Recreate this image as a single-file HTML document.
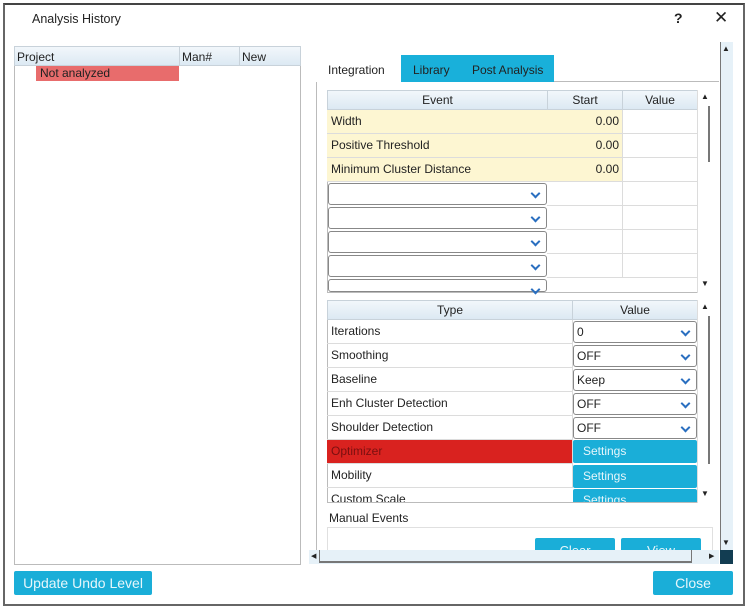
<!DOCTYPE html>
<html><head><style>
*{box-sizing:border-box;margin:0;padding:0}
body{width:750px;height:610px;background:#fff;position:relative;overflow:hidden;font-family:"Liberation Sans","DejaVu Sans",sans-serif;font-size:12px;color:#222}
.a{position:absolute}
.t{position:absolute;white-space:nowrap}
.hdr{background:linear-gradient(#f2f7fb,#dce9f3);border:1px solid #c8d2da;text-align:center;line-height:19px}
.cell{position:absolute;border-bottom:1px solid #dcdcdc;border-right:1px solid #dcdcdc;line-height:23px;padding-left:4px}
.y{background:#fdf6d2}
.dd{position:absolute;background:#fff;border:1px solid #888;border-radius:3px}
.dd::after{content:"";position:absolute;right:7px;top:6px;width:5px;height:5px;border-right:2px solid #2a6fc0;border-bottom:2px solid #2a6fc0;transform:rotate(45deg)}
.btn{position:absolute;background:#1aaed8;color:#e6f6fb;border-radius:2px;text-align:center;font-size:14px}
</style></head><body>
<div class="a" style="left:3px;top:3px;width:742px;height:603px;border:2px solid #666;border-top-color:#444"></div>
<div class="t" style="left:32px;top:12px;font-size:12.5px">Analysis History</div>
<div class="t" style="left:674px;top:10px;font-size:14px;font-weight:bold">?</div>
<div class="t" style="left:714px;top:8px;font-size:17px">✕</div>

<!-- left list -->
<div class="a" style="left:14px;top:46px;width:287px;height:519px;border:1px solid #bbb"></div>
<div class="a hdr" style="left:14px;top:46px;width:287px;height:20px"></div>
<div class="t" style="left:17px;top:50px">Project</div>
<div class="a" style="left:179px;top:47px;width:1px;height:19px;background:#c8d2da"></div>
<div class="t" style="left:182px;top:50px">Man#</div>
<div class="a" style="left:239px;top:47px;width:1px;height:19px;background:#c8d2da"></div>
<div class="t" style="left:242px;top:50px">New</div>
<div class="a" style="left:36px;top:66px;width:143px;height:15px;background:#e86c6c"></div>
<div class="t" style="left:40px;top:66px">Not analyzed</div>
<div class="btn" style="left:14px;top:571px;width:138px;height:24px;line-height:24px">Update Undo Level</div>

<!-- right panel -->
<div class="a" style="left:316px;top:82px;width:1px;height:470px;background:#bbb"></div>
<div class="a" style="left:720px;top:42px;width:13px;height:510px;background:#e6f1f8;border-left:1px solid #777"></div>
<div class="t" style="left:722px;top:44px;font-size:8px">▲</div>
<div class="t" style="left:722px;top:538px;font-size:8px">▼</div>
<div class="t" style="left:328px;top:63px">Integration</div>
<div class="a" style="left:401px;top:55px;width:153px;height:27px;background:#19b0da"></div>
<div class="t" style="left:413px;top:63px">Library</div>
<div class="t" style="left:472px;top:63px">Post Analysis</div>
<div class="a" style="left:554px;top:81px;width:165px;height:1px;background:#bbb"></div>

<!-- event table -->
<div class="a" style="left:327px;top:90px;width:386px;height:203px;border:1px solid #bbb"></div>
<div class="a hdr" style="left:327px;top:90px;width:221px;height:20px">Event</div>
<div class="a hdr" style="left:547px;top:90px;width:76px;height:20px">Start</div>
<div class="a hdr" style="left:622px;top:90px;width:76px;height:20px">Value</div>
<div class="a" style="left:697px;top:90px;width:16px;height:203px;background:#fff;border-left:1px solid #ddd"></div>
<div class="a" style="left:708px;top:106px;width:2px;height:56px;background:#777"></div>
<div class="t" style="left:701px;top:92px;font-size:8px">▲</div>
<div class="t" style="left:701px;top:279px;font-size:8px">▼</div>
<div class="cell y" style="left:327px;top:110px;width:221px;height:24px">Width</div>
<div class="cell y" style="left:547px;top:110px;width:76px;height:24px;text-align:right;padding-right:3px">0.00</div>
<div class="cell" style="left:622px;top:110px;width:76px;height:24px"></div>
<div class="cell y" style="left:327px;top:134px;width:221px;height:24px">Positive Threshold</div>
<div class="cell y" style="left:547px;top:134px;width:76px;height:24px;text-align:right;padding-right:3px">0.00</div>
<div class="cell" style="left:622px;top:134px;width:76px;height:24px"></div>
<div class="cell y" style="left:327px;top:158px;width:221px;height:24px">Minimum Cluster Distance</div>
<div class="cell y" style="left:547px;top:158px;width:76px;height:24px;text-align:right;padding-right:3px">0.00</div>
<div class="cell" style="left:622px;top:158px;width:76px;height:24px"></div>
<div class="dd" style="left:328px;top:183px;width:219px;height:22px"></div>
<div class="dd" style="left:328px;top:207px;width:219px;height:22px"></div>
<div class="dd" style="left:328px;top:231px;width:219px;height:22px"></div>
<div class="dd" style="left:328px;top:255px;width:219px;height:22px"></div>
<div class="dd" style="left:328px;top:279px;width:219px;height:13px"></div>
<div class="cell" style="left:547px;top:182px;width:76px;height:24px"></div><div class="cell" style="left:622px;top:182px;width:76px;height:24px"></div>
<div class="cell" style="left:547px;top:206px;width:76px;height:24px"></div><div class="cell" style="left:622px;top:206px;width:76px;height:24px"></div>
<div class="cell" style="left:547px;top:230px;width:76px;height:24px"></div><div class="cell" style="left:622px;top:230px;width:76px;height:24px"></div>
<div class="cell" style="left:547px;top:254px;width:76px;height:24px"></div><div class="cell" style="left:622px;top:254px;width:76px;height:24px"></div>

<!-- type table -->
<div class="a" style="left:327px;top:300px;width:386px;height:203px;border:1px solid #bbb"></div>
<div class="a hdr" style="left:327px;top:300px;width:246px;height:20px">Type</div>
<div class="a hdr" style="left:572px;top:300px;width:126px;height:20px">Value</div>
<div class="a" style="left:697px;top:300px;width:16px;height:203px;background:#fff;border-left:1px solid #ddd"></div>
<div class="a" style="left:708px;top:316px;width:2px;height:148px;background:#777"></div>
<div class="t" style="left:701px;top:302px;font-size:8px">▲</div>
<div class="t" style="left:701px;top:489px;font-size:8px">▼</div>
<div class="cell" style="left:327px;top:320px;width:246px;height:24px">Iterations</div>
<div class="cell" style="left:327px;top:344px;width:246px;height:24px">Smoothing</div>
<div class="cell" style="left:327px;top:368px;width:246px;height:24px">Baseline</div>
<div class="cell" style="left:327px;top:392px;width:246px;height:24px">Enh Cluster Detection</div>
<div class="cell" style="left:327px;top:416px;width:246px;height:24px">Shoulder Detection</div>
<div class="cell" style="left:327px;top:440px;width:246px;height:24px;background:#d9221f;color:#7a1010">Optimizer</div>
<div class="cell" style="left:327px;top:464px;width:246px;height:24px">Mobility</div>
<div class="a" style="left:327px;top:488px;width:246px;height:14px;overflow:hidden"><div class="t" style="left:4px;top:4px">Custom Scale</div></div>
<div class="dd" style="left:573px;top:321px;width:124px;height:22px;line-height:21px;padding-left:3px">0</div>
<div class="dd" style="left:573px;top:345px;width:124px;height:22px;line-height:21px;padding-left:3px">OFF</div>
<div class="dd" style="left:573px;top:369px;width:124px;height:22px;line-height:21px;padding-left:3px">Keep</div>
<div class="dd" style="left:573px;top:393px;width:124px;height:22px;line-height:21px;padding-left:3px">OFF</div>
<div class="dd" style="left:573px;top:417px;width:124px;height:22px;line-height:21px;padding-left:3px">OFF</div>
<div class="btn" style="left:573px;top:440px;width:124px;height:23px;line-height:23px;font-size:12px;text-align:left;padding-left:10px">Settings</div>
<div class="btn" style="left:573px;top:465px;width:124px;height:23px;line-height:23px;font-size:12px;text-align:left;padding-left:10px">Settings</div>
<div class="a" style="left:573px;top:489px;width:124px;height:13px;overflow:hidden"><div class="btn" style="left:0;top:0;width:124px;height:23px;line-height:23px;font-size:12px;text-align:left;padding-left:10px">Settings</div></div>

<div class="t" style="left:329px;top:511px">Manual Events</div>
<div class="a" style="left:327px;top:527px;width:386px;height:28px;border:1px solid #e0e0e0;border-bottom:none"></div>
<div class="a" style="left:535px;top:538px;width:80px;height:12px;overflow:hidden"><div class="btn" style="left:0;top:0;width:80px;height:22px;line-height:26px;font-size:13px">Clear</div></div>
<div class="a" style="left:621px;top:538px;width:80px;height:12px;overflow:hidden"><div class="btn" style="left:0;top:0;width:80px;height:22px;line-height:26px;font-size:13px">View</div></div>
<!-- h scrollbar -->
<div class="a" style="left:309px;top:550px;width:410px;height:14px;background:#e6f1f8"></div>
<div class="a" style="left:319px;top:550px;width:373px;height:13px;border-left:1px solid #777;border-bottom:2px solid #777;border-right:1px solid #777;background:#e6f1f8"></div>
<div class="t" style="left:311px;top:552px;font-size:7px">◀</div>
<div class="t" style="left:709px;top:552px;font-size:7px">▶</div>
<div class="a" style="left:720px;top:550px;width:13px;height:14px;background:#123d52"></div>
<div class="btn" style="left:653px;top:571px;width:80px;height:24px;line-height:24px">Close</div>
</body></html>
